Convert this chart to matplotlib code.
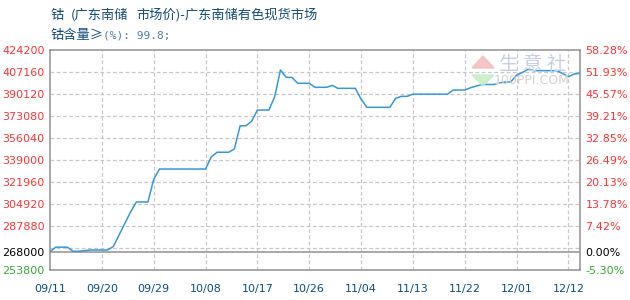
import matplotlib
matplotlib.use('Agg')
import matplotlib.pyplot as plt
from matplotlib.patches import Polygon

plt.rcParams['font.family'] = ['DejaVu Sans']
CJK = ['Noto Sans CJK SC', 'DejaVu Sans']

# 每日价格 (元/吨), 09/11 起
prices = [268000, 271500, 271500, 271500, 268300, 268300, 268800, 269300, 269300, 269300,
          269300, 272000, 281000, 290000, 298900, 306500, 306500, 306500, 324000, 332000,
          332000, 332000, 332000, 332000, 332000, 332000, 332000, 332000,
          341500, 345000, 345000, 345000, 347500, 365500, 365500, 369000, 377700, 377700,
          377700, 388000, 408700, 403000, 403000, 398400, 398400, 398400, 395300, 395300,
          395300, 396800, 394500, 394500, 394500, 394500, 386100, 379800, 379800, 379800,
          379800, 379800, 386800, 388300, 388300, 390000,
          390000, 390000, 390000, 390000, 390000, 390000,
          393200, 393200, 393200, 395000, 396300, 397500, 397500, 397500, 398700, 399300,
          399500, 404800, 406800, 409200, 408200, 408200, 408200, 408200, 408200, 406000,
          403500, 405600, 406200]
date_labels = ['09/11', '09/20', '09/29', '10/08', '10/17', '10/26',
               '11/04', '11/13', '11/22', '12/01', '12/12']
base_price = 268000
y_min, y_max = 253800, 424200
grid_step = 17040

fig = plt.figure(figsize=(6.3, 3.0), dpi=100)
ax = fig.add_axes([50 / 630, 0.1, 530 / 630, 220 / 300])

days = list(range(len(prices)))
ax.plot(days, prices, color='#3797d8', lw=1.1, zorder=3)

ax.set_xlim(0, len(prices) - 1)
ax.set_ylim(y_min, y_max)

# 网格
grid_vals = [y_max - k * grid_step for k in range(1, 10)]
for g in grid_vals:
    ax.axhline(g, color='#c8c8c8', lw=0.9, ls=(0, (3, 2)), zorder=1)
xt = [i * 9 for i in range(len(date_labels))]
for x in xt[1:]:
    ax.axvline(x, color='#c8c8c8', lw=0.9, ls=(0, (3, 2)), zorder=1)
ax.axhline(base_price, color='#999999', lw=1.2, zorder=2)

for s in ax.spines.values():
    s.set_color('#999999')
    s.set_linewidth(1.2)

ax.set_xticks(xt)
ax.set_xticklabels(date_labels, fontsize=8, color='#0b4f83')
ax.tick_params(axis='x', length=0, pad=10)

yt = [y_min, base_price] + grid_vals[:8][::-1] + [y_max]
ycolors = ['#33aa33', '#000000'] + ['#ff3333'] * 9
ax.set_yticks(yt)
ax.set_yticklabels([str(v) for v in yt], fontsize=8)
ax.tick_params(axis='y', length=0, pad=4)
for lab, c in zip(ax.get_yticklabels(), ycolors):
    lab.set_color(c)

ax2 = ax.twinx()
ax2.set_ylim(y_min, y_max)
ax2.set_yticks(yt)
ax2.set_yticklabels(['%.2f%%' % ((v - base_price) / base_price * 100) for v in yt], fontsize=8)
ax2.tick_params(axis='y', length=0, pad=4)
for lab, c in zip(ax2.get_yticklabels(), ycolors):
    lab.set_color(c)
for s in ax2.spines.values():
    s.set_visible(False)

# 标题
title_color = '#134b7c'
fig.text(50 / 630, 1 - 15 / 300, '钴', family=CJK, fontsize=9.5, color=title_color, va='center')
fig.text(71 / 630, 1 - 15 / 300, '(广东南储', family=CJK, fontsize=9.5, color=title_color, va='center')
fig.text(136 / 630, 1 - 15 / 300, '市场价)-广东南储有色现货市场', family=CJK, fontsize=9.5,
         color=title_color, va='center')
fig.text(50 / 630, 1 - 36 / 300, '钴含量≥', family=CJK, fontsize=9.5,
         color=title_color, va='center')
fig.text(103 / 630, 1 - 36 / 300, '(%): 99.8;', family='DejaVu Sans Mono', fontsize=8,
         color='#4f7ca3', va='center')

# 水印
fig.patches.append(Polygon([[472 / 630, 1 - 68 / 300], [494 / 630, 1 - 68 / 300],
                            [483 / 630, 1 - 56 / 300]], closed=True,
                           transform=fig.transFigure, color='#f4b8b8', alpha=0.8, zorder=4))
fig.patches.append(Polygon([[472 / 630, 1 - 75 / 300], [494 / 630, 1 - 75 / 300],
                            [483 / 630, 1 - 86 / 300]], closed=True,
                           transform=fig.transFigure, color='#c4ecc4', alpha=0.8, zorder=4))
fig.text(533 / 630, 1 - 64 / 300, '生 意 社', family=CJK, fontsize=14,
         color='#c9cfe2', ha='center', va='center', zorder=4)
fig.text(532 / 630, 1 - 81 / 300, '100PPI.COM', fontsize=9,
         color='#d2d2d2', ha='center', va='center', zorder=4)

fig.savefig('out.png', dpi=100)
